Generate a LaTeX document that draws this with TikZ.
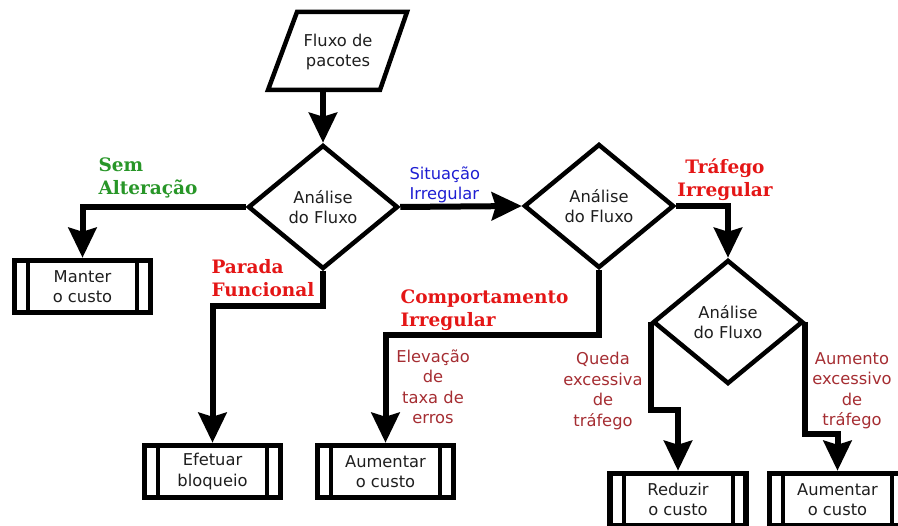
\documentclass[tikz,border=0pt]{standalone}
\usepackage{fontspec}
\setmainfont{DejaVu Sans}
\newfontfamily\boldserif{DejaVu Serif}
\usetikzlibrary{shapes.geometric,arrows.meta}

\definecolor{verde}{RGB}{40,150,40}
\definecolor{azul}{RGB}{30,30,210}
\definecolor{vermelho}{RGB}{228,22,22}
\definecolor{vinho}{RGB}{165,45,50}
\definecolor{texto}{RGB}{30,30,30}

\begin{document}
\begin{tikzpicture}[x=1pt,y=1pt,yscale=-1,xscale=1,
    every node/.style={text=texto,font=\fontsize{16.3}{20.5}\selectfont},
    decision/.style={diamond,draw,line width=4.5pt,inner sep=0pt,
      minimum width=150pt,minimum height=124pt,align=center},
    proc/.style={draw,line width=5.5pt,minimum width=136pt,minimum height=52pt,
      align=center,inner sep=0pt,
      path picture={
        \draw[line width=4pt] ([xshift=13.5pt]path picture bounding box.north west)
          -- ([xshift=13.5pt]path picture bounding box.south west);
        \draw[line width=4pt] ([xshift=-13.5pt]path picture bounding box.north east)
          -- ([xshift=-13.5pt]path picture bounding box.south east);}},
    flow/.style={line width=6pt,-{Stealth[length=30pt,width=28pt,inset=4pt]}},
    choice/.style={font=\boldserif\bfseries\fontsize{18.5}{23}\selectfont,align=left,anchor=west},
    cause/.style={text=vinho,align=center}]
  \clip (0,0) rectangle (898,526);

  %Flowchart: Data
  \draw[line width=4.5pt,line join=miter] (297,12) -- (407,12) -- (380,90) -- (268,90) -- cycle;
  \node (in) at (338,52) [align=center] {Fluxo de\\pacotes};
  \coordinate (inbot) at (323,88);

  %Flowchart: Decision
  \node[decision] (d1) at (323,207) {Análise\\do Fluxo};
  \node[decision] (d2) at (599,206) {Análise\\do Fluxo};
  \node[decision] (d3) at (728,322) {Análise\\do Fluxo};

  %Flowchart: Predefined Process
  \node[proc] (keep) at (82.5,286.5) {Manter\\o custo};
  \node[proc] (block) at (212.5,471.5) {Efetuar\\bloqueio};
  \node[proc] (raise1) at (385.5,471.5) {Aumentar\\o custo};
  \node[proc] (reduce) at (678,499.5) {Reduzir\\o custo};
  \node[proc] (raise2) at (837.5,499.5) {Aumentar\\o custo};

  %Connectors
  \draw[flow] (inbot) -- (d1.north);
  \draw[flow] (d1.west) -| (keep.north);
  \draw[flow] (d1.south) -- ++(0,35) -| (block.north);
  \draw[flow] (d1.east) -- (d2.west);
  \draw[flow] (d2.south) -- ++(0,65) -| (raise1.north);
  \draw[flow] (d2.east) -| (d3.north);
  \draw[flow] (d3.west) -- ++(0,88) -| (reduce.north);
  \draw[flow] (d3.east) -- ++(0,112) -| (raise2.north);

  % Text Node
  \node[choice,text=verde] (semalt) at (95,178) {Sem\\Alteração};
  % Text Node
  \node[text=azul,align=left,anchor=west] (sitirr) at (406,185) {Situação\\Irregular};
  % Text Node
  \node[choice,text=vermelho] (parada) at (208,278) {Parada\\Funcional};
  % Text Node
  \node[choice,text=vermelho] (comport) at (397,310) {Comportamento\\Irregular};
  % Text Node
  \node[choice,text=vermelho,align=center,anchor=center] (trafirr) at (725,180) {Tráfego\\Irregular};
  % Text Node
  \node[cause] (elev) at (433,387) {Elevação\\de\\taxa de\\erros};
  % Text Node
  \node[cause] (queda) at (603,391) {Queda\\excessiva\\de\\tráfego};
  % Text Node
  \node[cause] (aumento) at (852,391) {Aumento\\excessivo\\de\\tráfego};
\end{tikzpicture}
\end{document}
